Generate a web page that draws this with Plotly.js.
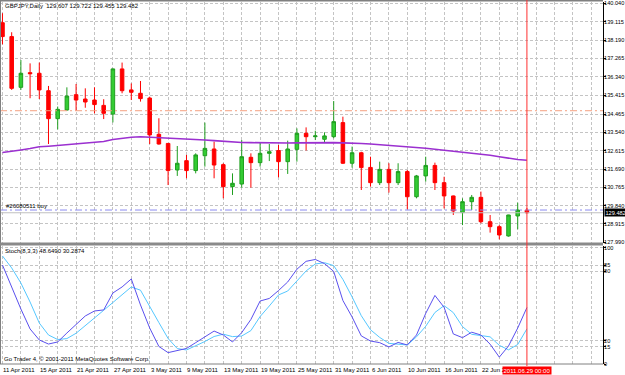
<!DOCTYPE html>
<html><head><meta charset="utf-8">
<script src="https://cdn.plot.ly/plotly-3.0.1.min.js"></script>
<style>html,body{margin:0;padding:0;background:#fff}#chart{width:625px;height:375px}</style>
</head><body><div id="chart"></div>
<script>
// ---- data (GBPJPY daily, 11 Apr - 29 Jun 2011) ----
const dates = ["2011.04.11","2011.04.12","2011.04.13","2011.04.14","2011.04.15",
  "2011.04.18","2011.04.19","2011.04.20","2011.04.21","2011.04.22",
  "2011.04.25","2011.04.26","2011.04.27","2011.04.28","2011.04.29",
  "2011.05.02","2011.05.03","2011.05.04","2011.05.05","2011.05.06",
  "2011.05.09","2011.05.10","2011.05.11","2011.05.12","2011.05.13",
  "2011.05.16","2011.05.17","2011.05.18","2011.05.19","2011.05.20",
  "2011.05.23","2011.05.24","2011.05.25","2011.05.26","2011.05.27",
  "2011.05.30","2011.05.31","2011.06.01","2011.06.02","2011.06.03",
  "2011.06.06","2011.06.07","2011.06.08","2011.06.09","2011.06.10",
  "2011.06.13","2011.06.14","2011.06.15","2011.06.16","2011.06.17",
  "2011.06.20","2011.06.21","2011.06.22","2011.06.23","2011.06.24",
  "2011.06.27","2011.06.28","2011.06.29"];
const openP  = [139.07,138.37,135.81,136.55,136.52,135.64,134.23,134.67,135.44,135.22,
  135.17,134.90,134.46,136.74,135.68,135.51,135.27,133.44,132.98,131.64,
  132.11,131.61,132.36,132.70,131.91,130.80,130.93,132.28,132.01,132.48,
  132.62,132.06,132.68,133.49,133.32,133.19,133.32,134.03,131.98,132.51,
  131.77,131.00,131.67,131.00,131.56,130.29,131.34,131.87,131.00,130.33,
  129.49,130.04,130.26,129.03,128.78,128.31,129.32,129.607];
const highP  = [139.55,138.59,137.19,137.02,137.06,135.88,134.84,135.81,135.98,135.76,
  135.81,135.21,136.76,137.06,136.01,136.13,135.34,134.25,133.00,132.85,
  132.40,132.48,134.03,133.07,131.98,131.47,133.15,132.48,133.02,132.95,
  132.90,133.12,133.74,133.79,133.62,133.54,135.12,134.33,132.82,132.56,
  132.31,132.06,131.98,131.98,131.64,131.39,132.31,132.01,131.30,130.35,
  130.21,130.38,130.55,129.37,128.86,129.38,129.99,129.722];
const lowP   = [137.98,135.68,135.68,135.26,135.22,132.95,133.69,134.62,134.63,134.78,
  134.50,134.21,134.04,135.51,135.17,135.09,132.95,132.92,130.88,131.34,
  131.22,131.47,131.81,131.22,130.21,130.38,130.75,130.75,131.81,132.09,
  131.27,131.44,132.06,132.62,133.15,133.02,133.24,131.94,131.76,130.63,
  130.80,130.88,130.50,130.88,129.65,130.21,131.05,130.63,129.70,129.37,
  128.86,129.62,128.95,128.48,128.14,128.28,128.65,129.455];
const closeP = [138.37,135.76,136.52,136.50,135.68,134.23,134.70,135.37,135.17,135.07,
  134.94,134.50,136.74,135.64,135.56,135.24,133.41,132.95,131.61,131.98,
  131.61,132.40,132.73,131.89,130.80,130.97,132.31,132.01,132.48,132.56,
  132.06,132.70,133.49,133.32,133.36,133.36,134.08,131.98,132.51,131.76,
  131.00,131.67,131.00,131.56,130.29,131.34,131.87,131.00,130.33,129.57,
  130.04,130.26,129.03,128.78,128.36,129.37,129.62,129.482];
const maValues = [132.52,132.57,132.65,132.72,132.81,132.84,132.88,132.90,132.94,132.97,
  133.01,133.08,133.18,133.24,133.29,133.32,133.30,133.28,133.25,133.23,
  133.20,133.18,133.15,133.12,133.08,133.04,133.03,133.02,133.01,133.00,
  132.99,133.00,133.01,133.02,133.02,133.02,133.02,133.01,133.01,132.98,
  132.95,132.92,132.89,132.86,132.83,132.79,132.74,132.69,132.64,132.60,
  132.55,132.50,132.45,132.38,132.31,132.23,132.17,132.13];
const stochMain = [85.3,66.4,47.4,30.2,20.7,17.2,19.0,26.7,34.5,41.4,
  45.7,46.6,61.2,66.4,73.3,50.9,31.0,15.1,9.8,11.3,
  13.4,18.4,23.6,28.4,25.0,19.0,27.0,38.4,54.3,56.5,
  63.3,70.7,81.7,88.5,90.1,86.5,79.8,54.7,40.5,24.2,
  19.8,18.4,14.7,18.6,16.4,25.0,43.6,59.1,48.8,25.9,
  22.7,27.4,25.0,17.1,5.9,15.5,31.0,48.649];
const stochSignal = [93.1,82.8,69.8,53.4,35.3,25.0,21.1,21.9,26.5,32.8,
  39.7,46.3,52.9,59.6,66.4,63.6,50.2,35.7,22.0,13.3,
  12.1,15.5,19.4,23.7,25.7,23.6,24.1,28.8,40.9,50.0,
  59.5,62.9,71.2,80.2,86.2,87.3,84.8,72.9,57.8,41.6,
  29.5,22.9,17.8,17.0,16.4,23.4,32.5,44.4,50.3,44.3,
  32.2,25.6,24.8,23.4,16.1,12.2,16.8,30.287];
const priceTicks = [140.040,139.115,138.190,137.265,136.340,135.415,134.465,133.540,
  132.615,131.690,130.765,129.840,128.915,127.990];
const priceTickText = ["140.040","139.115","138.190","137.265","136.340","135.415","134.465",
  "133.540","132.615","131.690","130.765","129.840","128.915","127.990"];
const stochTicks = [0,15,20,80,85,100];
const dateTickIdx = [0,4,8,12,16,20,24,28,32,36,40,44,48,52];
const dateTickLabels = ["11 Apr 2011","15 Apr 2011","21 Apr 2011","27 Apr 2011","3 May 2011",
  "9 May 2011","13 May 2011","19 May 2011","25 May 2011","31 May 2011","6 Jun 2011",
  "10 Jun 2011","16 Jun 2011","22 Jun 2011"];
const gridIdx = [0,2,4,6,8,10,12,14,16,18,20,22,24,26,28,30,32,34,36,38,40,42,44,46,48,50,52,54,56,58,60,62,64];
const tpLevel = 134.63;
const orderLevel = 129.62;
const bidLevel = 129.482;
const headerText = "GBPJPY,Daily  129.607 129.722 129.455 129.482";
const stochText = "Stoch(8,3,3) 48.6490 30.2874";
const orderText = "#26080511 buy";
const footerText = "Go Trader 4, \u00a9 2001-2011 MetaQuotes Software Corp.";
const cursorIdx = 57;
const cursorText = "2011.06.29 00:00";

// ---- layout helpers (pixels -> paper) ----
const W = 625, H = 375;
const px = x => x / W;
const py = y => 1 - y / H;
const idx = dates.map((d, i) => i);
const FONT = "Liberation Sans Narrow, Liberation Sans, Arial, sans-serif";
const fs = 6;
const tfs = 5.6;

const traces = [
  {type: "candlestick", x: idx, open: openP, high: highP, low: lowP, close: closeP,
   xaxis: "x", yaxis: "y", whiskerwidth: 0,
   increasing: {line: {color: "#1f9e1f", width: 1}, fillcolor: "#33cc33"},
   decreasing: {line: {color: "#ff0000", width: 1}, fillcolor: "#ff0000"},
   hoverinfo: "skip", showlegend: false},
  {type: "scatter", mode: "lines", x: idx, y: maValues, xaxis: "x", yaxis: "y",
   line: {color: "#9b30d0", width: 1.6}, hoverinfo: "skip", showlegend: false},
  {type: "scatter", mode: "lines", x: idx, y: stochSignal, xaxis: "x", yaxis: "y2",
   line: {color: "#55c8ff", width: 1}, hoverinfo: "skip", showlegend: false},
  {type: "scatter", mode: "lines", x: idx, y: stochMain, xaxis: "x", yaxis: "y2",
   line: {color: "#5a50ee", width: 1}, hoverinfo: "skip", showlegend: false}
];

const xr = [-0.27, 65.27];
const layout = {
  width: W, height: H,
  margin: {l: 0, r: 0, t: 0, b: 0},
  paper_bgcolor: "#ffffff", plot_bgcolor: "#ffffff",
  boxgap: 0.45,
  showlegend: false,
  font: {family: FONT, size: fs, color: "#000000"},
  xaxis: {domain: [0, px(603)], range: xr, anchor: "y2", rangeslider: {visible: false},
    tickmode: "array", tickvals: gridIdx, showticklabels: false, ticks: "",
    showgrid: true, gridcolor: "#c4c4c4", griddash: "3px,2px", gridwidth: 1,
    zeroline: false, showline: false, fixedrange: true},
  yaxis: {domain: [py(243), py(2)], range: [127.956, 140.116], side: "right",
    tickmode: "array", tickvals: priceTicks, ticktext: priceTickText,
    ticks: "outside", ticklen: 2, tickcolor: "#000", tickfont: {size: tfs, family: FONT},
    ticklabelstandoff: -3,
    showgrid: true, gridcolor: "#c4c4c4", griddash: "3px,2px",
    zeroline: false, showline: true, linecolor: "#000", linewidth: 1, anchor: "x"},
  yaxis2: {domain: [py(364), py(246)], range: [0, 101.7], side: "right",
    tickmode: "array", tickvals: stochTicks,
    ticks: "outside", ticklen: 2, tickcolor: "#000", tickfont: {size: tfs, family: FONT},
    ticklabelstandoff: -3,
    showgrid: true, gridcolor: "#c4c4c4", griddash: "3px,2px",
    zeroline: false, showline: true, linecolor: "#000", linewidth: 1, anchor: "x"},
  shapes: [
    {type: "line", xref: "paper", yref: "y", x0: 0, x1: px(603), y0: tpLevel, y1: tpLevel,
     line: {color: "#f4a080", width: 1, dash: "7px,3px,2px,3px"}},
    {type: "line", xref: "paper", yref: "y", x0: 0, x1: px(603), y0: bidLevel, y1: bidLevel,
     line: {color: "#c0c0c0", width: 1}},
    {type: "line", xref: "paper", yref: "y", x0: 0, x1: px(603), y0: orderLevel, y1: orderLevel,
     line: {color: "#8c8cf0", width: 1, dash: "7px,3px,2px,3px"}},
    {type: "line", xref: "paper", yref: "paper", x0: px(0.5), x1: px(0.5), y0: py(0), y1: py(364),
     line: {color: "#808080", width: 1}},
    {type: "line", xref: "paper", yref: "paper", x0: 0, x1: px(603), y0: py(0.8), y1: py(0.8),
     line: {color: "#808080", width: 1.5}},
    {type: "rect", xref: "paper", yref: "paper", x0: 0, x1: px(603), y0: py(242.5), y1: py(245.5),
     fillcolor: "#8a8a8a", line: {width: 0}},
    {type: "line", xref: "paper", yref: "paper", x0: 0, x1: px(603), y0: py(364), y1: py(364),
     line: {color: "#808080", width: 1}},
    {type: "line", xref: "x", yref: "paper", x0: cursorIdx, x1: cursorIdx, y0: py(0), y1: py(366),
     line: {color: "#ff3030", width: 1}}
  ],
  annotations: []
};

const ann = layout.annotations;
const txt = (text, x, y, extra) => Object.assign({text: text, xref: "paper", yref: "paper",
  x: px(x), y: py(y), xanchor: "left", yanchor: "middle", showarrow: false,
  font: {family: FONT, size: fs, color: "#000"}}, extra || {});
ann.push(txt(headerText, 3, 6));
ann.push(txt(orderText, 4, 205.5));
ann.push(txt(stochText, 3, 251));
ann.push(txt(footerText, 2, 359));
dateTickIdx.forEach((d, k) => {
  ann.push({text: dateTickLabels[k], xref: "x", yref: "paper", x: d, y: py(369.5),
    xanchor: "left", yanchor: "middle", xshift: -1, showarrow: false,
    font: {family: FONT, size: fs, color: "#000"}});
});
ann.push({text: cursorText, xref: "x", yref: "paper", x: cursorIdx, y: py(370.5),
  xanchor: "center", yanchor: "middle", showarrow: false, bgcolor: "#ff0000", borderpad: 0.5,
  font: {family: FONT, size: fs, color: "#ffffff"}});
ann.push({text: "129.482", xref: "paper", yref: "y", x: px(604), y: bidLevel,
  xanchor: "left", yanchor: "middle", showarrow: false, bgcolor: "#000000", borderpad: 0.5,
  font: {family: FONT, size: tfs, color: "#ffffff"}});

Plotly.newPlot("chart", traces, layout, {staticPlot: true, displayModeBar: false});
</script>
</body></html>
